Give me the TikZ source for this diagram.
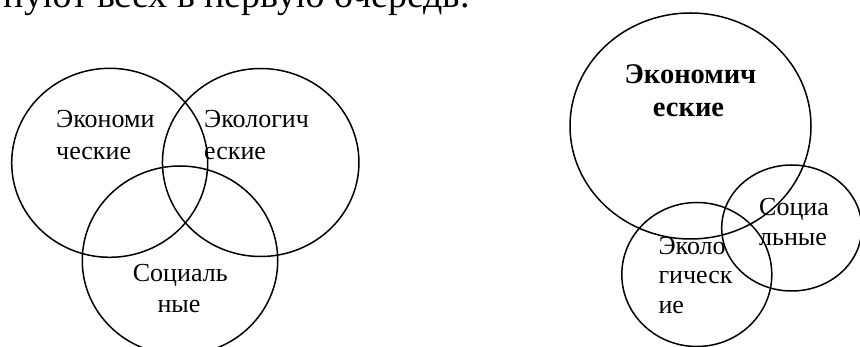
\documentclass[tikz,border=0pt]{standalone}
\usepackage{fontspec}
\setmainfont{Liberation Serif}
\usetikzlibrary{shapes.geometric}
\begin{document}
\begin{tikzpicture}[x=1pt,y=-1pt,
  ring/.style={draw=black,line width=1.5pt,ellipse,inner sep=0pt},
  lbl/.style={anchor=base west,inner sep=0pt,font=\fontsize{26}{30}\selectfont},
  blbl/.style={anchor=base,inner sep=0pt,font=\fontsize{28.5}{32}\selectfont\bfseries},
  toptext/.style={anchor=base east,inner sep=0pt,font=\fontsize{38}{44}\selectfont}]
\useasboundingbox (0,0) rectangle (860,347);
\clip (0,0) rectangle (860,347);
\node[toptext] (top) at (470,7.5) {нуют всех в первую очередь.};
% left diagram
\node[ring,minimum width=196pt,minimum height=189pt] (econ) at (109.7,162.8) {};
\node[ring,minimum width=196.5pt,minimum height=188pt] (ecol) at (260.7,162.5) {};
\node[ring,minimum width=195.5pt,minimum height=189pt] (soc) at (180,260.5) {};
\node[lbl] (t1) at (56,127.3) {Экономи};
\node[lbl] (t2) at (56,159.5) {ческие};
\node[lbl] (t3) at (204,127.3) {Экологич};
\node[lbl] (t4) at (204,159.5) {еские};
\node[lbl] (t5) at (132.7,281.7) {Социаль};
\node[lbl,anchor=base] (t6) at (179,313) {ные};
% right diagram
\node[ring,minimum width=241pt,minimum height=226pt] (recon) at (690.5,126) {};
\node[ring,minimum width=140pt,minimum height=126pt] (rsoc) at (791.7,228) {};
\node[ring,minimum width=150pt,minimum height=144pt] (recol) at (696.8,274.5) {};
\node[blbl] (r1) at (690.5,84) {Экономич};
\node[blbl] (r2) at (688.5,117) {еские};
\node[lbl] (r3) at (759,215.5) {Социа};
\node[lbl] (r4) at (759,245.5) {льные};
\node[lbl] (r5) at (658.3,255) {Эколо};
\node[lbl] (r6) at (658.3,284) {гическ};
\node[lbl] (r7) at (658.3,313.5) {ие};
\end{tikzpicture}
\end{document}
